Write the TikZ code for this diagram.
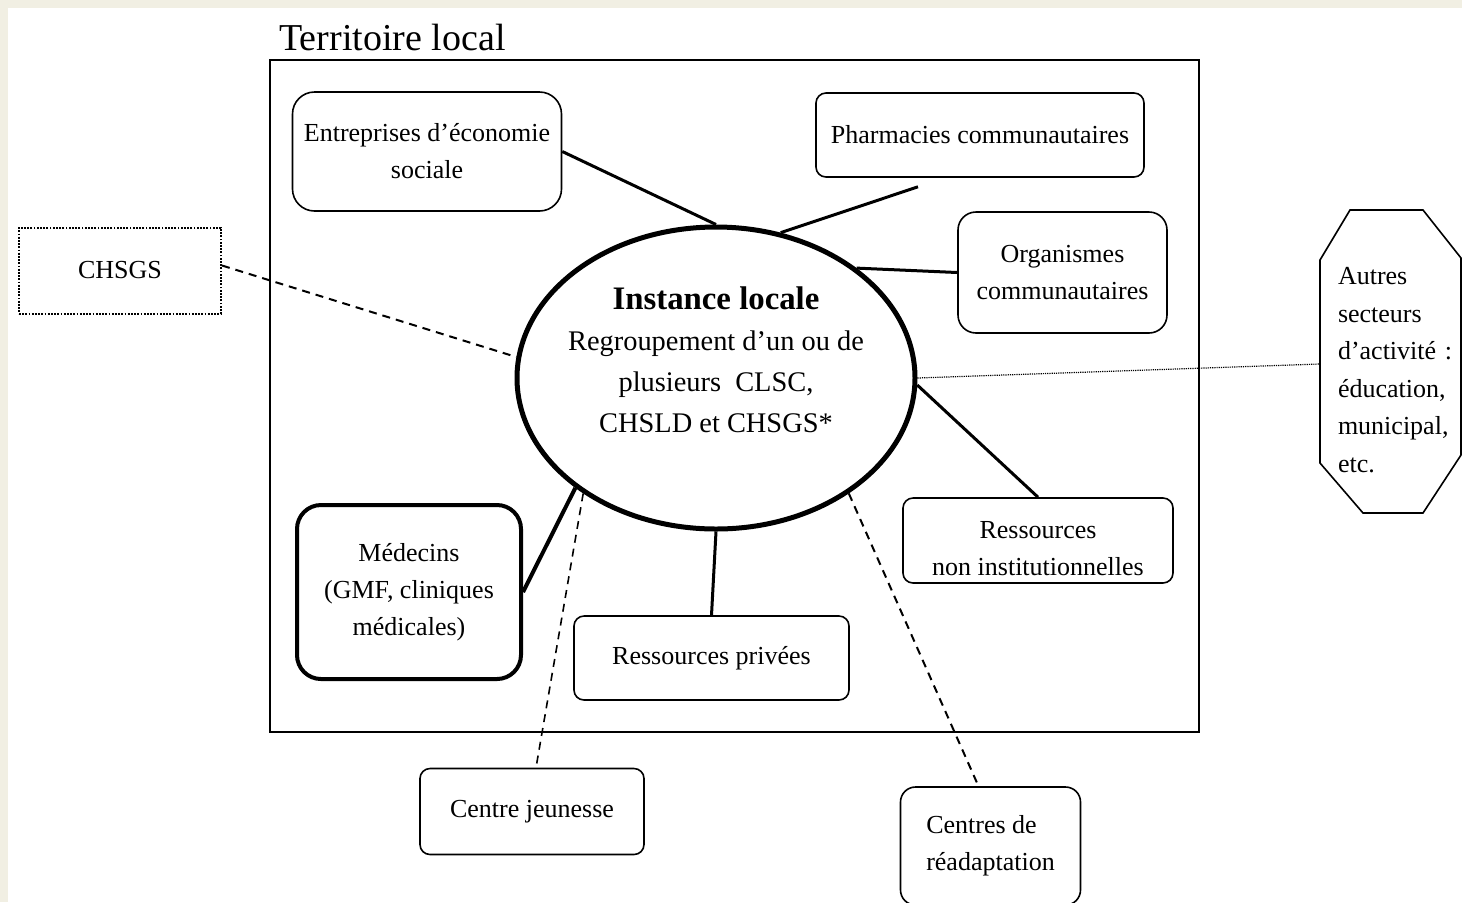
\documentclass[tikz,border=0pt]{standalone}
\usepackage{fontspec}
\setmainfont{Liberation Serif}
\usetikzlibrary{shapes.geometric}

\newcommand\boxfont{\fontsize{13}{18.5}\selectfont}
\newcommand\instfont{\fontsize{14.2}{20.5}\selectfont}
\definecolor{pageedge}{RGB}{241,239,227}

\begin{document}
\begin{tikzpicture}[
    x=0.5pt, y=-0.5pt,
    font=\boxfont,
    box/.style={draw, line width=0.8pt, rounded corners=5pt, align=center, inner sep=0pt},
    softbox/.style={box, rounded corners=10pt},
    link/.style={line width=1.5pt},
    ext/.style={line width=1pt, dash pattern=on 4pt off 3pt},
    far/.style={line width=0.6pt, dash pattern=on 0.6pt off 0.5pt},
]
\useasboundingbox (0,0) rectangle (1462,902);
\fill[pageedge] (0,0) rectangle (1462,902);
\fill[white] (7.5,7.5) rectangle (1462,902);

% --- the local territory and its title ------------------------------------
\node[draw, line width=1pt, minimum width=464.5pt, minimum height=336pt] (terr) at (734.5,396) {};
\node[font=\fontsize{19}{22}\selectfont, anchor=base west, inner sep=0pt] (terrtitle)
    at ([xshift=5pt, yshift=4.5pt]terr.north west) {Territoire local};

% --- the local instance in the middle -------------------------------------
\node[draw, ellipse, line width=2.5pt, minimum width=199pt, minimum height=151pt, inner sep=0pt] (inst) at (716,378) {};
\node[font=\instfont, align=center] (insttext) at (716,360)
    {{\fontsize{16.4}{21}\selectfont\bfseries Instance locale}\\Regroupement d’un ou de\\plusieurs~~CLSC,\\CHSLD et CHSGS*};

% --- partners inside the territory ----------------------------------------
\node[softbox, rounded corners=11pt, minimum width=134.5pt, minimum height=59.5pt] (entre) at (427,151.5)
    {Entreprises d’économie\\sociale};
\node[box, minimum width=164pt, minimum height=42pt] (pharma) at (980,135) {Pharmacies communautaires};
\node[softbox, rounded corners=9pt, minimum width=104.5pt, minimum height=60.5pt] (orga) at (1062.5,272.5)
    {Organismes\\communautaires};
\node[box, line width=2pt, rounded corners=12pt, minimum width=112pt, minimum height=87pt] (medecin) at (409,592)
    {Médecins\\(GMF, cliniques\\médicales)};
\node[box, minimum width=137.5pt, minimum height=42pt] (prive) at (711.5,658) {Ressources privées};
\node[box, minimum width=135pt, minimum height=42.5pt,
    label={[align=center, yshift=-4pt]center:Ressources\\non institutionnelles}] (noninst) at (1038,540.5) {};

% --- partners outside the territory ---------------------------------------
\node[draw, line width=1pt, dash pattern=on 0.9pt off 0.7pt, minimum width=101pt, minimum height=43pt] (chsgs) at (120,270.5) {CHSGS};
\node[box, minimum width=112pt, minimum height=43pt] (jeunesse) at (532,811.5) {Centre jeunesse};
\node[softbox, rounded corners=7.5pt, align=left, minimum width=90pt, minimum height=59pt] (readapt) at (990.5,846)
    {Centres de\\réadaptation};
\node[align=left, text width=54pt, inner xsep=9pt, inner ysep=0pt,
    font=\fontsize{13}{18.8}\selectfont] (autres) at (1392,370)
    {Autres\\secteurs\\d’activité~:\\éducation,\\municipal,\\etc.};
\draw[line width=0.8pt, shift={(autres.center)}]
    (-42,-160) -- (31,-160) -- (69,-112) -- (69,85) -- (31,143) -- (-29,143) -- (-72,93) -- (-72,-110) -- cycle;

% --- links to the local instance ------------------------------------------
\draw[link] (entre.east) -- (inst.90);
\draw[link] ([xshift=-31pt, yshift=-4.5pt]pharma.south) -- (inst.66);
\draw[link] (inst.38) -- (orga.west);
\draw[link] (inst.-2) -- (noninst.north);
\draw[link] (inst.south) -- (prive.north);
\draw[link, line width=2pt] (inst.218.5) -- (medecin.east);
\draw[ext, line width=0.8pt] (inst.221.5) -- ([xshift=2pt]jeunesse.north);
\draw[ext] (inst.-41) -- ([xshift=-6pt]readapt.north);
\draw[ext] ([yshift=2.5pt]chsgs.east) -- (inst.174);
\draw[far] (inst.0) -- ([yshift=3pt]autres.west);

\end{tikzpicture}
\end{document}
